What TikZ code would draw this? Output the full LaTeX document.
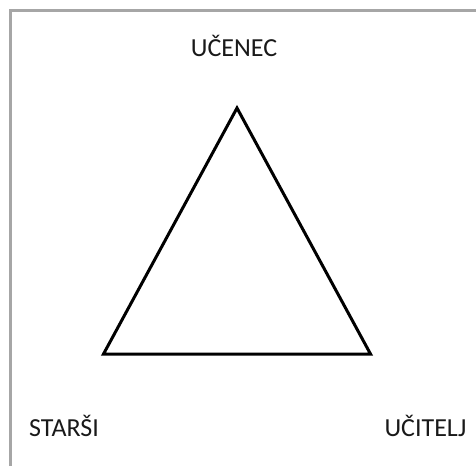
\documentclass[tikz,border=0pt]{standalone}
\usepackage{fontspec}
\setmainfont{Carlito}
\definecolor{okvir}{HTML}{A6A6A6}
\begin{document}
\begin{tikzpicture}[x=1pt, y=-1pt, line join=miter,
		vloga/.style={inner sep=0pt, font=\fontsize{26}{30}\selectfont, text=black!90},
		stranica/.style={line width=3pt, black}]
	
	% ================= okvir slike =================
	\useasboundingbox (0,0) rectangle (476,466);
	\draw[okvir, line width=3pt] (10.5,466) -- (10.5,10.5) -- (476,10.5);
	
	% ================= oglišča trikotnika =================
	\coordinate (vrh) at (237,108);
	\coordinate (levo) at (103.5,354);
	\coordinate (desno) at (370.5,354);
	\draw[stranica] (vrh) -- (levo) -- (desno) -- cycle;
	
	% ================= oznake =================
	\node[vloga] (ucenec) at (234,46) {UČENEC};
	\node[vloga] (starsi) at (64,426) {STARŠI};
	\node[vloga] (ucitelj) at (425.5,426) {UČITELJ};
	
\end{tikzpicture}
\end{document}
